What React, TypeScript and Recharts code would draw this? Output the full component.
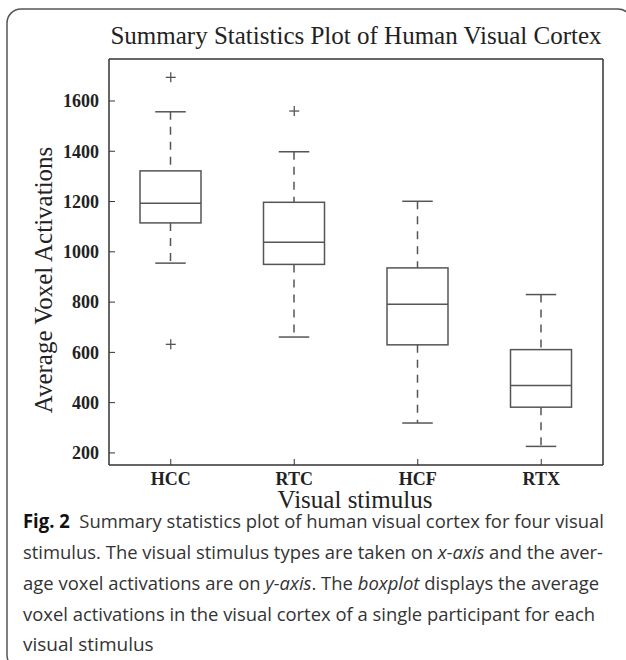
import React from 'react';
import { ComposedChart, Bar, Line, XAxis, YAxis } from 'recharts';

const categories = ['HCC', 'RTC', 'HCF', 'RTX'];
const whiskerLow = [955, 661, 319, 226];
const quartile1 = [1115, 950, 630, 382];
const medians = [1193, 1038, 791, 468];
const quartile3 = [1322, 1197, 936, 611];
const whiskerHigh = [1557, 1398, 1201, 830];
const outliersHigh: (number | null)[] = [1694, 1560, null, null];
const outliersLow: (number | null)[] = [632, null, null, null];
const yTicks = [200, 400, 600, 800, 1000, 1200, 1400, 1600];
const yDomain = [152, 1767];

const data = categories.map((name, i) => ({
  name,
  range: [whiskerLow[i], whiskerHigh[i]],
  lo: whiskerLow[i],
  q1: quartile1[i],
  med: medians[i],
  q3: quartile3[i],
  hi: whiskerHigh[i],
  outHi: outliersHigh[i],
  outLo: outliersLow[i],
}));

const FRAME = '#333';
const BOX = '#555';
const SERIF = '"Liberation Serif", "Times New Roman", serif';
const SANS = '"Open Sans", "Noto Sans", sans-serif';

const BoxShape = (props: any) => {
  const { x, y, width, height, payload } = props;
  if (x == null || y == null) return <g />;
  const top = Math.min(y, y + height);
  const h = Math.abs(height);
  const lo = payload.lo;
  const hi = payload.hi;
  const py = (v: number) => top + ((hi - v) / (hi - lo)) * h;
  const cx = x + width / 2;
  const capHalf = width / 4;
  const yQ1 = py(payload.q1);
  const yQ3 = py(payload.q3);
  const yMed = py(payload.med);
  const yLo = py(lo);
  const yHi = py(hi);
  return (
    <g stroke={BOX} strokeWidth={1.5} fill="none">
      <line x1={cx} x2={cx} y1={yHi} y2={yQ3} strokeDasharray="8,7" />
      <line x1={cx} x2={cx} y1={yQ1} y2={yLo} strokeDasharray="8,7" />
      <line x1={cx - capHalf} x2={cx + capHalf} y1={yHi} y2={yHi} />
      <line x1={cx - capHalf} x2={cx + capHalf} y1={yLo} y2={yLo} />
      <rect x={x} y={yQ3} width={width} height={yQ1 - yQ3} />
      <line x1={x} x2={x + width} y1={yMed} y2={yMed} />
    </g>
  );
};

const PlusDot = (props: any) => {
  const { cx, cy, value, index } = props;
  if (value == null || cy == null || isNaN(cy)) return <g key={`p-${index}`} />;
  return (
    <g key={`p-${index}`} stroke={BOX} strokeWidth={1.3}>
      <line x1={cx - 5} x2={cx + 5} y1={cy} y2={cy} />
      <line x1={cx} x2={cx} y1={cy - 5} y2={cy + 5} />
    </g>
  );
};

const LeftTick = (props: any) => {
  const { x, y, payload } = props;
  return (
    <g>
      <line x1={x} x2={x + 6} y1={y} y2={y} stroke={FRAME} strokeWidth={1} />
      <text x={x - 10} y={y} dy="0.35em" textAnchor="end" fontFamily={SERIF} fontWeight="bold" fontSize={18} fill="#222">
        {payload.value}
      </text>
    </g>
  );
};

const BottomTick = (props: any) => {
  const { x, y, payload } = props;
  return (
    <g>
      <line x1={x} x2={x} y1={y} y2={y - 6} stroke={FRAME} strokeWidth={1} />
      <text x={x} y={y + 20} textAnchor="middle" fontFamily={SERIF} fontWeight="bold" fontSize={18} fill="#222">
        {payload.value}
      </text>
    </g>
  );
};

export default function App() {
  return (
    <div style={{ position: 'absolute', left: 0, top: 0, width: 626, height: 660, background: '#fff', overflow: 'hidden' }}>
      <div style={{ position: 'absolute', left: 0, top: 0 }}>
        <ComposedChart width={626} height={660} data={data} margin={{ top: 59, right: 23, bottom: 135, left: 0 }}>
          <XAxis
            xAxisId="b"
            dataKey="name"
            orientation="bottom"
            height={60}
            interval={0}
            tickLine={false}
            tickSize={0}
            tickMargin={0}
            tick={<BottomTick />}
            axisLine={{ stroke: FRAME, strokeWidth: 1.5 }}
          />
          <XAxis
            xAxisId="t"
            dataKey="name"
            orientation="top"
            mirror
            interval={0}
            tick={false}
            tickSize={6}
            tickLine={{ stroke: FRAME, strokeWidth: 1 }}
            axisLine={{ stroke: FRAME, strokeWidth: 1.5 }}
          />
          <YAxis
            yAxisId="l"
            type="number"
            domain={yDomain}
            ticks={yTicks}
            width={109}
            interval={0}
            tickLine={false}
            tickSize={0}
            tickMargin={0}
            tick={<LeftTick />}
            axisLine={{ stroke: FRAME, strokeWidth: 1.5 }}
          />
          <YAxis
            yAxisId="r"
            type="number"
            orientation="right"
            mirror
            domain={yDomain}
            ticks={yTicks}
            interval={0}
            tick={false}
            tickSize={6}
            tickLine={{ stroke: FRAME, strokeWidth: 1 }}
            axisLine={{ stroke: FRAME, strokeWidth: 1.5 }}
          />
          <Bar
            xAxisId="b"
            yAxisId="l"
            dataKey="range"
            barSize={61}
            fill="none"
            shape={<BoxShape />}
            isAnimationActive={false}
          />
          <Line
            xAxisId="t"
            yAxisId="r"
            dataKey="outHi"
            stroke="none"
            dot={PlusDot}
            activeDot={false}
            isAnimationActive={false}
          />
          <Line
            xAxisId="t"
            yAxisId="r"
            dataKey="outLo"
            stroke="none"
            dot={PlusDot}
            activeDot={false}
            isAnimationActive={false}
          />
        </ComposedChart>
      </div>
      <svg width={626} height={660} style={{ position: 'absolute', left: 0, top: 0, pointerEvents: 'none' }}>
        <rect x={7} y={9} width={625} height={660} rx={14} ry={14} fill="none" stroke="#555" strokeWidth={1.5} />
        <text x={356} y={44} textAnchor="middle" fontFamily={SERIF} fontSize={25} fill="#222">
          Summary Statistics Plot of Human Visual Cortex
        </text>
        <text x={355} y={508} textAnchor="middle" fontFamily={SERIF} fontSize={25} fill="#222">
          Visual stimulus
        </text>
        <text
          transform="translate(52,280) rotate(-90)"
          textAnchor="middle"
          fontFamily={SERIF}
          fontSize={25}
          fill="#222"
        >
          Average Voxel Activations
        </text>
        <g fontFamily={SANS} fontSize={19} fill="#333">
          <text x={23} y={528} textLength={581} lengthAdjust="spacingAndGlyphs">
            <tspan fontWeight="bold" fill="#111">Fig. 2</tspan>
            <tspan>{'\u00a0\u00a0Summary statistics plot of human visual cortex for four visual'}</tspan>
          </text>
          <text x={23} y={559} textLength={580} lengthAdjust="spacingAndGlyphs">
            <tspan>stimulus. The visual stimulus types are taken on </tspan>
            <tspan fontStyle="italic">x-axis</tspan>
            <tspan> and the aver-</tspan>
          </text>
          <text x={23} y={590} textLength={576} lengthAdjust="spacingAndGlyphs">
            <tspan>age voxel activations are on </tspan>
            <tspan fontStyle="italic">y-axis</tspan>
            <tspan>. The </tspan>
            <tspan fontStyle="italic">boxplot</tspan>
            <tspan> displays the average</tspan>
          </text>
          <text x={23} y={621} textLength={572} lengthAdjust="spacingAndGlyphs">
            voxel activations in the visual cortex of a single participant for each
          </text>
          <text x={23} y={651}>
            visual stimulus
          </text>
        </g>
      </svg>
    </div>
  );
}
